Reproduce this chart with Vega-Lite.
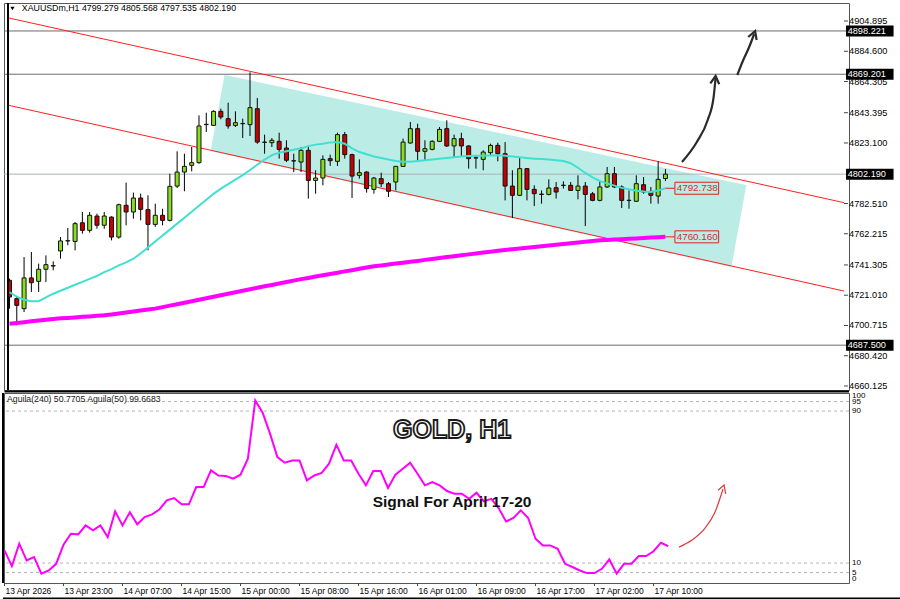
{
"$schema":"https://vega.github.io/schema/vega-lite/v6.json",
"background":"white",
"padding":{"left":0,"top":1,"right":0,"bottom":0},
"spacing":3,
"bounds":"flush",
"config":{"view":{"stroke":"#555555","strokeWidth":1},"font":"Liberation Sans"},
"datasets":{
"candles":[
{"i":0,"o":4731.0,"h":4732.1,"l":4712.0,"c":4719.8,"m1":4723,"m2":4701.9,"ag":16.7},
{"i":1,"o":4718.7,"h":4719.8,"l":4700.8,"c":4714.2,"m1":4720,"m2":4702.4,"ag":8.4},
{"i":2,"o":4712.0,"h":4746.6,"l":4709.7,"c":4732.6,"m1":4718,"m2":4702.9,"ag":20.2},
{"i":3,"o":4732.6,"h":4750.0,"l":4723.2,"c":4729.4,"m1":4717,"m2":4703.5,"ag":11.4},
{"i":4,"o":4730.3,"h":4742.2,"l":4723.2,"c":4738.4,"m1":4717,"m2":4704.0,"ag":13.2},
{"i":5,"o":4738.4,"h":4747.7,"l":4729.9,"c":4741.5,"m1":4719.5,"m2":4704.5,"ag":4.4},
{"i":6,"o":4740.6,"h":4743.7,"l":4737.7,"c":4740.8,"m1":4722,"m2":4705.1,"ag":6.1},
{"i":7,"o":4750.7,"h":4760.0,"l":4745.5,"c":4757.4,"m1":4724,"m2":4705.5,"ag":9.6},
{"i":8,"o":4757.4,"h":4766.1,"l":4754.5,"c":4757.6,"m1":4726,"m2":4705.8,"ag":19.6},
{"i":9,"o":4757.1,"h":4770.1,"l":4751.1,"c":4769.0,"m1":4728,"m2":4706.1,"ag":25.4},
{"i":10,"o":4769.6,"h":4776.8,"l":4762.3,"c":4764.5,"m1":4730,"m2":4706.5,"ag":25.1},
{"i":11,"o":4764.5,"h":4776.8,"l":4763.0,"c":4774.6,"m1":4732,"m2":4706.8,"ag":29.8},
{"i":12,"o":4774.1,"h":4775.7,"l":4765.6,"c":4767.9,"m1":4734,"m2":4707.2,"ag":27.2},
{"i":13,"o":4767.9,"h":4776.8,"l":4765.6,"c":4774.1,"m1":4736.5,"m2":4707.5,"ag":29.8},
{"i":14,"o":4773.4,"h":4773.9,"l":4757.8,"c":4760.0,"m1":4738.5,"m2":4708.1,"ag":23.7},
{"i":15,"o":4760.0,"h":4782.4,"l":4758.9,"c":4781.7,"m1":4741,"m2":4708.8,"ag":37.2},
{"i":16,"o":4781.3,"h":4796.5,"l":4767.9,"c":4776.8,"m1":4743,"m2":4709.4,"ag":29.8},
{"i":17,"o":4776.8,"h":4789.8,"l":4772.3,"c":4786.2,"m1":4745.5,"m2":4710.1,"ag":36.8},
{"i":18,"o":4786.2,"h":4789.1,"l":4771.2,"c":4778.6,"m1":4749,"m2":4710.7,"ag":30.4},
{"i":19,"o":4778.4,"h":4788.0,"l":4751.1,"c":4768.5,"m1":4753,"m2":4711.4,"ag":34.2},
{"i":20,"o":4768.5,"h":4782.4,"l":4766.8,"c":4774.6,"m1":4757,"m2":4712.0,"ag":35.6},
{"i":21,"o":4774.6,"h":4779.0,"l":4767.9,"c":4771.2,"m1":4761,"m2":4713.0,"ag":38.2},
{"i":22,"o":4771.2,"h":4802.5,"l":4770.5,"c":4794.0,"m1":4765,"m2":4714.0,"ag":43},
{"i":23,"o":4794.2,"h":4817.5,"l":4792.9,"c":4803.6,"m1":4769,"m2":4715.0,"ag":44.2},
{"i":24,"o":4803.6,"h":4815.9,"l":4790.7,"c":4807.4,"m1":4773,"m2":4716.0,"ag":40.9},
{"i":25,"o":4808.1,"h":4820.4,"l":4804.1,"c":4809.9,"m1":4777,"m2":4717.0,"ag":40.9},
{"i":26,"o":4809.9,"h":4841.6,"l":4809.2,"c":4834.5,"m1":4781,"m2":4718.0,"ag":50},
{"i":27,"o":4835.4,"h":4843.4,"l":4830.5,"c":4835.6,"m1":4785,"m2":4719.0,"ag":50},
{"i":28,"o":4834.9,"h":4845.0,"l":4834.5,"c":4844.3,"m1":4789,"m2":4720.0,"ag":58.8},
{"i":29,"o":4844.3,"h":4846.1,"l":4839.0,"c":4840.5,"m1":4792.5,"m2":4721.0,"ag":56.1},
{"i":30,"o":4839.4,"h":4850.1,"l":4832.7,"c":4834.5,"m1":4795.5,"m2":4722.0,"ag":55.8},
{"i":31,"o":4834.9,"h":4844.3,"l":4833.8,"c":4836.7,"m1":4798.5,"m2":4723.0,"ag":54.4},
{"i":32,"o":4836.0,"h":4839.4,"l":4826.4,"c":4836.2,"m1":4801.5,"m2":4724.0,"ag":56.5},
{"i":33,"o":4835.4,"h":4870.5,"l":4827.8,"c":4846.8,"m1":4805,"m2":4725.0,"ag":64.9},
{"i":34,"o":4846.1,"h":4853.3,"l":4822.6,"c":4823.7,"m1":4808.5,"m2":4726.0,"ag":95.6},
{"i":35,"o":4823.7,"h":4828.7,"l":4815.9,"c":4823.5,"m1":4812,"m2":4727.0,"ag":89.1},
{"i":36,"o":4823.3,"h":4826.4,"l":4820.4,"c":4824.9,"m1":4815,"m2":4727.9,"ag":78.1},
{"i":37,"o":4824.2,"h":4830.0,"l":4812.6,"c":4818.8,"m1":4816.5,"m2":4728.9,"ag":65.8},
{"i":38,"o":4819.7,"h":4824.9,"l":4810.3,"c":4811.5,"m1":4817.5,"m2":4729.9,"ag":62.8},
{"i":39,"o":4811.0,"h":4815.9,"l":4803.6,"c":4811.2,"m1":4818.5,"m2":4730.8,"ag":64},
{"i":40,"o":4810.3,"h":4820.4,"l":4803.6,"c":4818.2,"m1":4819.5,"m2":4731.8,"ag":64},
{"i":41,"o":4818.2,"h":4820.4,"l":4785.8,"c":4798.0,"m1":4821,"m2":4732.6,"ag":53.5},
{"i":42,"o":4798.0,"h":4804.8,"l":4789.1,"c":4799.6,"m1":4822,"m2":4733.5,"ag":56.1},
{"i":43,"o":4799.6,"h":4814.8,"l":4794.7,"c":4812.1,"m1":4822.6,"m2":4734.4,"ag":57.4},
{"i":44,"o":4812.6,"h":4815.3,"l":4807.7,"c":4811.2,"m1":4823.5,"m2":4735.2,"ag":62.3},
{"i":45,"o":4810.8,"h":4830.0,"l":4807.7,"c":4828.7,"m1":4823.8,"m2":4736.1,"ag":72.3},
{"i":46,"o":4828.7,"h":4830.5,"l":4812.6,"c":4815.3,"m1":4822.6,"m2":4737.0,"ag":64},
{"i":47,"o":4815.3,"h":4815.9,"l":4786.2,"c":4800.9,"m1":4819.5,"m2":4737.8,"ag":64},
{"i":48,"o":4801.4,"h":4812.1,"l":4799.2,"c":4803.2,"m1":4817,"m2":4738.7,"ag":57},
{"i":49,"o":4803.6,"h":4804.1,"l":4789.8,"c":4792.5,"m1":4815.5,"m2":4739.6,"ag":50.9},
{"i":50,"o":4792.0,"h":4800.3,"l":4789.1,"c":4799.6,"m1":4814,"m2":4740.4,"ag":58.4},
{"i":51,"o":4799.2,"h":4803.2,"l":4793.6,"c":4795.8,"m1":4813,"m2":4741.0,"ag":58.4},
{"i":52,"o":4795.8,"h":4796.9,"l":4786.9,"c":4790.7,"m1":4812,"m2":4741.6,"ag":49.5},
{"i":53,"o":4796.9,"h":4807.7,"l":4791.3,"c":4807.4,"m1":4811,"m2":4742.2,"ag":56.5},
{"i":54,"o":4807.4,"h":4826.0,"l":4807.0,"c":4823.7,"m1":4810.5,"m2":4742.8,"ag":59.6},
{"i":55,"o":4823.1,"h":4837.2,"l":4822.6,"c":4832.7,"m1":4810.5,"m2":4743.4,"ag":62.8},
{"i":56,"o":4832.7,"h":4836.0,"l":4810.3,"c":4817.5,"m1":4811,"m2":4744.0,"ag":57},
{"i":57,"o":4817.5,"h":4824.9,"l":4811.5,"c":4819.3,"m1":4811.5,"m2":4744.7,"ag":50.9},
{"i":58,"o":4818.8,"h":4824.9,"l":4818.2,"c":4824.2,"m1":4812,"m2":4745.3,"ag":52.6},
{"i":59,"o":4824.2,"h":4833.8,"l":4823.7,"c":4832.2,"m1":4812.5,"m2":4746.0,"ag":50.9},
{"i":60,"o":4832.7,"h":4838.3,"l":4820.4,"c":4821.1,"m1":4813,"m2":4746.6,"ag":47.9},
{"i":61,"o":4821.1,"h":4828.7,"l":4813.7,"c":4826.0,"m1":4813.5,"m2":4747.2,"ag":46.5},
{"i":62,"o":4826.0,"h":4830.0,"l":4813.7,"c":4821.1,"m1":4814,"m2":4747.8,"ag":46.5},
{"i":63,"o":4821.1,"h":4821.5,"l":4805.9,"c":4812.6,"m1":4814.4,"m2":4748.4,"ag":43.8},
{"i":64,"o":4813.0,"h":4814.8,"l":4805.9,"c":4813.2,"m1":4814.5,"m2":4749.0,"ag":47},
{"i":65,"o":4812.1,"h":4818.2,"l":4804.8,"c":4817.0,"m1":4814.5,"m2":4749.6,"ag":42.5},
{"i":66,"o":4816.6,"h":4822.6,"l":4814.8,"c":4821.5,"m1":4814.7,"m2":4750.2,"ag":43.8},
{"i":67,"o":4821.5,"h":4823.3,"l":4810.8,"c":4815.9,"m1":4814.8,"m2":4750.8,"ag":38.9},
{"i":68,"o":4815.9,"h":4823.7,"l":4784.6,"c":4794.2,"m1":4814.5,"m2":4751.4,"ag":31.9},
{"i":69,"o":4794.2,"h":4804.8,"l":4772.8,"c":4788.0,"m1":4814,"m2":4751.9,"ag":33.7},
{"i":70,"o":4788.0,"h":4813.0,"l":4787.5,"c":4805.9,"m1":4813.5,"m2":4752.4,"ag":37.7},
{"i":71,"o":4805.9,"h":4806.3,"l":4784.6,"c":4792.0,"m1":4813,"m2":4752.9,"ag":33.7},
{"i":72,"o":4792.0,"h":4794.7,"l":4780.8,"c":4789.1,"m1":4812.6,"m2":4753.4,"ag":22.8},
{"i":73,"o":4788.6,"h":4791.3,"l":4782.4,"c":4788.8,"m1":4812.3,"m2":4753.9,"ag":19.3},
{"i":74,"o":4788.6,"h":4798.7,"l":4788.0,"c":4792.9,"m1":4812,"m2":4754.4,"ag":19.3},
{"i":75,"o":4793.1,"h":4796.9,"l":4785.8,"c":4790.2,"m1":4811.5,"m2":4754.9,"ag":17.5},
{"i":76,"o":4794.6,"h":4797.4,"l":4792.5,"c":4794.8,"m1":4811,"m2":4755.4,"ag":9.6},
{"i":77,"o":4794.7,"h":4796.9,"l":4791.0,"c":4791.3,"m1":4809.5,"m2":4755.9,"ag":7.9},
{"i":78,"o":4791.3,"h":4801.4,"l":4785.3,"c":4794.2,"m1":4806.5,"m2":4756.4,"ag":6.1},
{"i":79,"o":4794.2,"h":4796.9,"l":4767.4,"c":4788.6,"m1":4803,"m2":4756.9,"ag":4.7},
{"i":80,"o":4789.0,"h":4790.2,"l":4784.0,"c":4784.6,"m1":4800,"m2":4757.4,"ag":4.7},
{"i":81,"o":4784.6,"h":4798.0,"l":4784.0,"c":4793.6,"m1":4797.5,"m2":4757.8,"ag":7},
{"i":82,"o":4793.6,"h":4807.0,"l":4792.9,"c":4802.5,"m1":4796,"m2":4758.1,"ag":11.9},
{"i":83,"o":4802.5,"h":4807.0,"l":4792.9,"c":4793.6,"m1":4794.5,"m2":4758.3,"ag":4.4},
{"i":84,"o":4793.6,"h":4794.7,"l":4779.5,"c":4784.6,"m1":4793,"m2":4758.6,"ag":9.6},
{"i":85,"o":4784.7,"h":4791.3,"l":4779.0,"c":4784.5,"m1":4792,"m2":4758.9,"ag":9.6},
{"i":86,"o":4784.0,"h":4801.4,"l":4783.5,"c":4795.8,"m1":4791,"m2":4759.1,"ag":13.7},
{"i":87,"o":4795.1,"h":4800.3,"l":4789.1,"c":4790.2,"m1":4790.5,"m2":4759.4,"ag":13.7},
{"i":88,"o":4790.6,"h":4793.6,"l":4782.4,"c":4788.0,"m1":4790.3,"m2":4759.7,"ag":16.2},
{"i":89,"o":4787.5,"h":4810.8,"l":4782.4,"c":4798.7,"m1":4791.2,"m2":4759.9,"ag":20.7},
{"i":90,"o":4799.279,"h":4805.568,"l":4797.535,"c":4802.19,"m1":4792.738,"m2":4760.16,"ag":18.9}
],
"channel":[{"i":27.6,"top":4817.7,"bot":4817.7},{"i":29.5,"top":4868.7,"bot":4815.6},{"i":99.05,"top":4797.0,"bot":4739.9},{"i":101.1,"top":4794.9,"bot":4794.9}],
"redlines":[{"id":"u","i":-0.068,"p":4906.88},{"id":"u","i":114.5,"p":4783.06},{"id":"l","i":-0.068,"p":4848.3},{"id":"l","i":114.5,"p":4723.8}],
"hlines":[{"p":4898.221},{"p":4869.201},{"p":4802.19},{"p":4687.5}],
"ptags":[{"p":4792.738},{"p":4760.16}],
"yticks":[{"v":4904.895},{"v":4884.6},{"v":4864.305},{"v":4843.395},{"v":4823.1},{"v":4782.51},{"v":4762.215},{"v":4741.305},{"v":4721.01},{"v":4700.715},{"v":4680.42},{"v":4660.125}],
"lticks":[{"v":0},{"v":5},{"v":10},{"v":90},{"v":95},{"v":100}],
"xlabels":[{"i":0,"t":"13 Apr 2026"},{"i":8,"t":"13 Apr 23:00"},{"i":16,"t":"14 Apr 07:00"},{"i":24,"t":"14 Apr 15:00"},{"i":32,"t":"15 Apr 00:00"},{"i":40,"t":"15 Apr 08:00"},{"i":48,"t":"15 Apr 16:00"},{"i":56,"t":"16 Apr 01:00"},{"i":64,"t":"16 Apr 09:00"},{"i":72,"t":"16 Apr 17:00"},{"i":80,"t":"17 Apr 02:00"},{"i":88,"t":"17 Apr 10:00"}],
"arrows":[
{"a":"1","k":0,"i":92.27,"p":4810.34},{"a":"1","k":1,"i":94.31,"p":4823.75},{"a":"1","k":2,"i":95.8,"p":4838.5},{"a":"1","k":3,"i":96.61,"p":4853.9},{"a":"1","k":4,"i":96.88,"p":4866.67},
{"a":"2","k":0,"i":99.86,"p":4868.68},{"a":"2","k":1,"i":100.68,"p":4878.74},{"a":"2","k":2,"i":101.49,"p":4887.46},{"a":"2","k":3,"i":102.17,"p":4896.18}],
"heads":[
{"a":"1","k":0,"i":96.16,"p":4863.12},{"a":"1","k":1,"i":96.88,"p":4868.01},{"a":"1","k":2,"i":97.38,"p":4862.51},
{"a":"2","k":0,"i":101.36,"p":4894.17},{"a":"2","k":1,"i":102.3,"p":4898.19},{"a":"2","k":2,"i":102.51,"p":4892.16}],
"levels":[{"v":5},{"v":10},{"v":90},{"v":95}],
"redarrow":[{"k":0,"i":91.46,"v":18.4},{"k":1,"i":93.22,"v":22.1},{"k":2,"i":94.98,"v":28.4},{"k":3,"i":96.34,"v":36.9},{"k":4,"i":97.42,"v":49.0}],
"redhead":[{"k":0,"i":96.75,"v":48.29},{"k":1,"i":97.56,"v":51.08},{"k":2,"i":97.78,"v":46.4}],
"one":[{"n":1}]
},
"vconcat":[
{
"width":845,"height":387,
"layer":[
{"data":{"name":"channel"},"mark":{"type":"area","color":"#bcece6","opacity":1},
 "encoding":{"x":{"field":"i","type":"quantitative","scale":{"domain":[-0.068,114.5],"nice":false,"zero":false},"axis":null},
 "y":{"field":"top","type":"quantitative","scale":{"domain":[4657.44,4916.97],"nice":false,"zero":false},"axis":null},
 "y2":{"field":"bot"}}},
{"data":{"name":"hlines"},"mark":{"type":"rule","strokeWidth":1},
 "encoding":{"y":{"field":"p","type":"quantitative","scale":{"domain":[4657.44,4916.97],"nice":false,"zero":false},"axis":null},
 "color":{"condition":{"test":"datum.p==4802.19","value":"#a9b1b9"},"value":"#6b6b6b"}}},
{"data":{"name":"redlines"},"mark":{"type":"line","color":"#ff2020","strokeWidth":1},
 "encoding":{"x":{"field":"i","type":"quantitative","scale":{"domain":[-0.068,114.5],"nice":false,"zero":false},"axis":null},
 "y":{"field":"p","type":"quantitative","scale":{"domain":[4657.44,4916.97],"nice":false,"zero":false},"axis":null},
 "detail":{"field":"id"}}},
{"data":{"name":"candles"},"mark":{"type":"rule","color":"#000000","strokeWidth":1},
 "encoding":{"x":{"field":"i","type":"quantitative","scale":{"domain":[-0.068,114.5],"nice":false,"zero":false},"axis":null},
 "y":{"field":"l","type":"quantitative","scale":{"domain":[4657.44,4916.97],"nice":false,"zero":false},"axis":null},
 "y2":{"field":"h"}}},
{"data":{"name":"candles"},"mark":{"type":"bar","size":4,"stroke":"#111111","strokeWidth":1},
 "encoding":{"x":{"field":"i","type":"quantitative","scale":{"domain":[-0.068,114.5],"nice":false,"zero":false},"axis":null},
 "y":{"field":"o","type":"quantitative","scale":{"domain":[4657.44,4916.97],"nice":false,"zero":false},"axis":null},
 "y2":{"field":"c"},
 "color":{"condition":{"test":"datum.c>=datum.o","value":"#86e01e"},"value":"#c40000"}}},
{"data":{"name":"candles"},"mark":{"type":"line","color":"#ff00ff","strokeWidth":4},
 "encoding":{"x":{"field":"i","type":"quantitative","scale":{"domain":[-0.068,114.5],"nice":false,"zero":false},"axis":null},
 "y":{"field":"m2","type":"quantitative","scale":{"domain":[4657.44,4916.97],"nice":false,"zero":false},"axis":null}}},
{"data":{"name":"candles"},"mark":{"type":"line","color":"#40e0d0","strokeWidth":2},
 "encoding":{"x":{"field":"i","type":"quantitative","scale":{"domain":[-0.068,114.5],"nice":false,"zero":false},"axis":null},
 "y":{"field":"m1","type":"quantitative","scale":{"domain":[4657.44,4916.97],"nice":false,"zero":false},"axis":null}}},
{"data":{"name":"ptags"},"mark":{"type":"rule","color":"#e02020","strokeWidth":1},
 "encoding":{"x":{"datum":90,"type":"quantitative","scale":{"domain":[-0.068,114.5],"nice":false,"zero":false},"axis":null},"x2":{"datum":91.3},
 "y":{"field":"p","type":"quantitative","scale":{"domain":[4657.44,4916.97],"nice":false,"zero":false},"axis":null}}},
{"data":{"name":"ptags"},"mark":{"type":"rect","fillOpacity":0,"stroke":"#e02020","strokeWidth":1,"yOffset":-6,"y2Offset":6},
 "encoding":{"x":{"datum":91.3,"type":"quantitative","scale":{"domain":[-0.068,114.5],"nice":false,"zero":false},"axis":null},"x2":{"datum":97.3},
 "y":{"field":"p","type":"quantitative","scale":{"domain":[4657.44,4916.97],"nice":false,"zero":false},"axis":null},"y2":{"field":"p"}}},
{"data":{"name":"ptags"},"mark":{"type":"text","align":"left","baseline":"middle","fontSize":9.8,"color":"#d42a2a","font":"Liberation Sans"},
 "encoding":{"x":{"datum":91.55,"type":"quantitative","scale":{"domain":[-0.068,114.5],"nice":false,"zero":false},"axis":null},
 "y":{"field":"p","type":"quantitative","scale":{"domain":[4657.44,4916.97],"nice":false,"zero":false},"axis":null},
 "text":{"field":"p","type":"quantitative","format":".3f"}}},
{"data":{"name":"yticks"},"mark":{"type":"rule","color":"#444444","strokeWidth":1},
 "encoding":{"x":{"datum":114.5,"type":"quantitative","scale":{"domain":[-0.068,114.5],"nice":false,"zero":false},"axis":null},"x2":{"datum":115.04},
 "y":{"field":"v","type":"quantitative","scale":{"domain":[4657.44,4916.97],"nice":false,"zero":false},"axis":null}}},
{"data":{"name":"yticks"},"mark":{"type":"text","align":"left","baseline":"middle","fontSize":9.2,"color":"#000000","font":"Liberation Sans"},
 "encoding":{"x":{"datum":115.19,"type":"quantitative","scale":{"domain":[-0.068,114.5],"nice":false,"zero":false},"axis":null},
 "y":{"field":"v","type":"quantitative","scale":{"domain":[4657.44,4916.97],"nice":false,"zero":false},"axis":null},
 "text":{"field":"v","type":"quantitative","format":".3f"}}},
{"data":{"name":"hlines"},"mark":{"type":"rule","color":"#000000","strokeWidth":11,"strokeCap":"butt"},
 "encoding":{"x":{"datum":114.78,"type":"quantitative","scale":{"domain":[-0.068,114.5],"nice":false,"zero":false},"axis":null},"x2":{"datum":121.3},
 "y":{"field":"p","type":"quantitative","scale":{"domain":[4657.44,4916.97],"nice":false,"zero":false},"axis":null}}},
{"data":{"name":"hlines"},"mark":{"type":"text","align":"left","baseline":"middle","fontSize":9.2,"color":"#ffffff","font":"Liberation Sans"},
 "encoding":{"x":{"datum":115.0,"type":"quantitative","scale":{"domain":[-0.068,114.5],"nice":false,"zero":false},"axis":null},
 "y":{"field":"p","type":"quantitative","scale":{"domain":[4657.44,4916.97],"nice":false,"zero":false},"axis":null},
 "text":{"field":"p","type":"quantitative","format":".3f"}}},
{"data":{"name":"one"},"mark":{"type":"point","shape":"triangle-down","filled":true,"size":18,"color":"#000000","opacity":1},
 "encoding":{"x":{"datum":0.41,"type":"quantitative","scale":{"domain":[-0.068,114.5],"nice":false,"zero":false},"axis":null},
 "y":{"datum":4913.3,"type":"quantitative","scale":{"domain":[4657.44,4916.97],"nice":false,"zero":false},"axis":null}}},
{"data":{"name":"one"},"mark":{"type":"text","text":"XAUUSDm,H1  4799.279 4805.568 4797.535 4802.190","align":"left","baseline":"middle","fontSize":8.8,"color":"#000000","font":"Liberation Sans"},
 "encoding":{"x":{"datum":1.69,"type":"quantitative","scale":{"domain":[-0.068,114.5],"nice":false,"zero":false},"axis":null},
 "y":{"datum":4913.3,"type":"quantitative","scale":{"domain":[4657.44,4916.97],"nice":false,"zero":false},"axis":null}}},
{"data":{"name":"arrows"},"mark":{"type":"line","color":"#2a2a2a","strokeWidth":2.2,"interpolate":"monotone"},
 "encoding":{"x":{"field":"i","type":"quantitative","scale":{"domain":[-0.068,114.5],"nice":false,"zero":false},"axis":null},
 "y":{"field":"p","type":"quantitative","scale":{"domain":[4657.44,4916.97],"nice":false,"zero":false},"axis":null},
 "detail":{"field":"a"},"order":{"field":"k"}}},
{"data":{"name":"heads"},"mark":{"type":"line","color":"#2a2a2a","strokeWidth":2.2},
 "encoding":{"x":{"field":"i","type":"quantitative","scale":{"domain":[-0.068,114.5],"nice":false,"zero":false},"axis":null},
 "y":{"field":"p","type":"quantitative","scale":{"domain":[4657.44,4916.97],"nice":false,"zero":false},"axis":null},
 "detail":{"field":"a"},"order":{"field":"k"}}},
{"data":{"name":"one"},"mark":{"type":"rule","color":"#000000","strokeWidth":2},
 "encoding":{"x":{"datum":-0.2036,"type":"quantitative","scale":{"domain":[-0.068,114.5],"nice":false,"zero":false},"axis":null}}}
]
},
{
"width":845,"height":190,
"layer":[
{"data":{"name":"levels"},"mark":{"type":"rule","color":"#b4b4b4","strokeWidth":1,"strokeDash":[3,3]},
 "encoding":{"y":{"field":"v","type":"quantitative","scale":{"domain":[-0.5,99.5],"nice":false,"zero":false},"axis":null}}},
{"data":{"name":"candles"},"mark":{"type":"line","color":"#ff00ff","strokeWidth":2},
 "encoding":{"x":{"field":"i","type":"quantitative","scale":{"domain":[-0.068,114.5],"nice":false,"zero":false},"axis":null},
 "y":{"field":"ag","type":"quantitative","scale":{"domain":[-0.5,99.5],"nice":false,"zero":false},"axis":null}}},
{"data":{"name":"xlabels"},"mark":{"type":"rule","color":"#444444","strokeWidth":1},
 "encoding":{"x":{"field":"i","type":"quantitative","scale":{"domain":[-0.068,114.5],"nice":false,"zero":false},"axis":null},
 "y":{"datum":-0.5,"type":"quantitative","scale":{"domain":[-0.5,99.5],"nice":false,"zero":false},"axis":null},"y2":{"datum":-2.1}}},
{"data":{"name":"xlabels"},"mark":{"type":"text","align":"left","baseline":"top","dx":1,"fontSize":8.5,"color":"#000000","font":"Liberation Sans"},
 "encoding":{"x":{"field":"i","type":"quantitative","scale":{"domain":[-0.068,114.5],"nice":false,"zero":false},"axis":null},
 "y":{"datum":-2.85,"type":"quantitative","scale":{"domain":[-0.5,99.5],"nice":false,"zero":false},"axis":null},
 "text":{"field":"t"}}},
{"data":{"name":"lticks"},"transform":[{"filter":"datum.v>0 && datum.v<100"}],"mark":{"type":"text","align":"left","baseline":"middle","fontSize":8,"color":"#000000","font":"Liberation Sans"},
 "encoding":{"x":{"datum":114.92,"type":"quantitative","scale":{"domain":[-0.068,114.5],"nice":false,"zero":false},"axis":null},
 "y":{"field":"v","type":"quantitative","scale":{"domain":[-0.5,99.5],"nice":false,"zero":false},"axis":null},
 "text":{"field":"v","type":"quantitative"}}},
{"data":{"name":"lticks"},"transform":[{"filter":"datum.v==100"}],"mark":{"type":"text","align":"left","baseline":"top","fontSize":8,"color":"#000000","font":"Liberation Sans"},
 "encoding":{"x":{"datum":114.92,"type":"quantitative","scale":{"domain":[-0.068,114.5],"nice":false,"zero":false},"axis":null},
 "y":{"field":"v","type":"quantitative","scale":{"domain":[-0.5,99.5],"nice":false,"zero":false},"axis":null},
 "text":{"field":"v","type":"quantitative"}}},
{"data":{"name":"lticks"},"transform":[{"filter":"datum.v==0"}],"mark":{"type":"text","align":"left","baseline":"bottom","dy":1,"fontSize":8,"color":"#000000","font":"Liberation Sans"},
 "encoding":{"x":{"datum":114.92,"type":"quantitative","scale":{"domain":[-0.068,114.5],"nice":false,"zero":false},"axis":null},
 "y":{"field":"v","type":"quantitative","scale":{"domain":[-0.5,99.5],"nice":false,"zero":false},"axis":null},
 "text":{"field":"v","type":"quantitative"}}},
{"data":{"name":"one"},"mark":{"type":"text","text":"Aguila(240) 50.7705  Aguila(50) 99.6683","align":"left","baseline":"middle","fontSize":8.7,"color":"#222222","font":"Liberation Sans"},
 "encoding":{"x":{"datum":0.34,"type":"quantitative","scale":{"domain":[-0.068,114.5],"nice":false,"zero":false},"axis":null},
 "y":{"datum":96.3,"type":"quantitative","scale":{"domain":[-0.5,99.5],"nice":false,"zero":false},"axis":null}}},
{"data":{"name":"one"},"mark":{"type":"text","text":"GOLD, H1","align":"center","baseline":"middle","fontSize":25,"fontWeight":"bold","fill":"#ffffff","stroke":"#1a1a1a","strokeWidth":1.8,"font":"Liberation Sans"},
 "encoding":{"x":{"datum":60.68,"type":"quantitative","scale":{"domain":[-0.068,114.5],"nice":false,"zero":false},"axis":null},
 "y":{"datum":80.03,"type":"quantitative","scale":{"domain":[-0.5,99.5],"nice":false,"zero":false},"axis":null}}},
{"data":{"name":"one"},"mark":{"type":"text","text":"Signal For April 17-20","align":"center","baseline":"middle","fontSize":15.5,"fontWeight":"bold","color":"#111111","font":"Liberation Sans"},
 "encoding":{"x":{"datum":60.68,"type":"quantitative","scale":{"domain":[-0.068,114.5],"nice":false,"zero":false},"axis":null},
 "y":{"datum":42.13,"type":"quantitative","scale":{"domain":[-0.5,99.5],"nice":false,"zero":false},"axis":null}}},
{"data":{"name":"redarrow"},"mark":{"type":"line","color":"#e03a3a","strokeWidth":1.2,"interpolate":"monotone"},
 "encoding":{"x":{"field":"i","type":"quantitative","scale":{"domain":[-0.068,114.5],"nice":false,"zero":false},"axis":null},
 "y":{"field":"v","type":"quantitative","scale":{"domain":[-0.5,99.5],"nice":false,"zero":false},"axis":null},"order":{"field":"k"}}},
{"data":{"name":"redhead"},"mark":{"type":"line","color":"#e03a3a","strokeWidth":1.2},
 "encoding":{"x":{"field":"i","type":"quantitative","scale":{"domain":[-0.068,114.5],"nice":false,"zero":false},"axis":null},
 "y":{"field":"v","type":"quantitative","scale":{"domain":[-0.5,99.5],"nice":false,"zero":false},"axis":null},"order":{"field":"k"}}},
{"data":{"name":"one"},"mark":{"type":"rule","color":"#000000","strokeWidth":2},
 "encoding":{"x":{"datum":0,"type":"quantitative","scale":{"domain":[-0.068,114.5],"nice":false,"zero":false},"axis":null},"x2":{"datum":114.5},
 "y":{"datum":100.29,"type":"quantitative","scale":{"domain":[-0.5,99.5],"nice":false,"zero":false},"axis":null}}},
{"data":{"name":"one"},"mark":{"type":"rule","color":"#000000","strokeWidth":2},
 "encoding":{"x":{"datum":-0.2036,"type":"quantitative","scale":{"domain":[-0.068,114.5],"nice":false,"zero":false},"axis":null}}},
{"data":{"name":"one"},"mark":{"type":"rule","color":"#000000","strokeWidth":4},
 "encoding":{"x":{"datum":-0.2036,"type":"quantitative","scale":{"domain":[-0.068,114.5],"nice":false,"zero":false},"axis":null},"x2":{"datum":121.7},
 "y":{"datum":-9.2,"type":"quantitative","scale":{"domain":[-0.5,99.5],"nice":false,"zero":false},"axis":null}}}
]
}
]
}
